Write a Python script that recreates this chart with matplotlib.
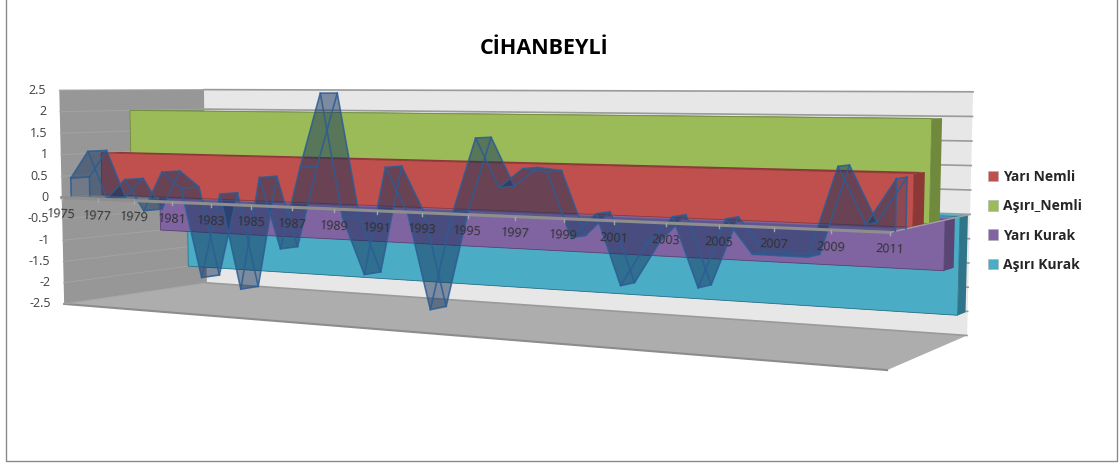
import numpy as np
import matplotlib
matplotlib.use('Agg')
import matplotlib.pyplot as plt
from matplotlib.patches import Polygon, Patch

years = list(range(1975, 2012))
spi = [0.44, 1.08, 0.0, 0.45, -0.25, 0.65, 0.3, -1.7, 0.2, -1.9, 0.6, -0.95, 0.85, 2.45, -0.2,
       -1.4, 0.9, -0.05, -2.05, 0.0, 1.55, 0.55, 0.95, 0.9, -0.4, 0.1, -1.3, -0.45, 0.1, -1.25,
       0.1, -0.55, -0.55, -0.55, 1.15, 0.1, 0.95]
band_names = ['Yarı Nemli', 'Aşırı_Nemli', 'Yarı Kurak', 'Aşırı Kurak']
band_levels = [1.0, 2.0, -1.0, -2.0]
band_colors = ['#c0504d', '#9bbb59', '#8064a2', '#4bacc6']
band_sides = ['#8c3836', '#6f8a3c', '#5a4574', '#2f7489']
value_ticks = [2.5, 2, 1.5, 1, 0.5, 0, -0.5, -1, -1.5, -2, -2.5]
year_ticks = list(range(1975, 2012, 2))

# depth slot of each series, 0 = front of the box, 1 = back wall
spi_depth = (0.06, 0.18)
band_depth = [(0.26, 0.39), (0.46, 0.59), (0.66, 0.79), (0.86, 0.97)]

# perspective of the 3d box, fitted on where its corners fall in the image
box = [(0, -2.5, 0), (1, -2.5, 0), (0, 2.5, 0), (1, 2.5, 0),
       (0, -2.5, 1), (1, -2.5, 1), (0, 2.5, 1), (1, 2.5, 1),
       (0, 0, 0), (1, 0, 0), (1, 0, 1)]
screen = [(65, 304), (887, 370), (60, 90), (893, 94),
          (207, 283), (968, 336), (204, 90), (974, 91),
          (60, 197), (890, 232), (968, 214)]
rows, rhs = [], []
for (a, b, c), (sx, sy) in zip(box, screen):
    rows.append([a, b, c, 1, 0, 0, 0, 0, -sx * a, -sx * b, -sx * c])
    rows.append([0, 0, 0, 0, a, b, c, 1, -sy * a, -sy * b, -sy * c])
    rhs += [sx, sy]
M = np.append(np.linalg.lstsq(np.array(rows, float), np.array(rhs, float), rcond=None)[0], 1).reshape(3, 4)


def pt(u, v, d):
    p = M @ np.array([u, v, d, 1.0])
    return p[0] / p[2], p[1] / p[2]


def yr(y):
    return (y - 1975) / (years[-1] - 1975)


fig = plt.figure(figsize=(11.2, 4.63), dpi=100)
ax = fig.add_axes([0, 0, 1, 1])
ax.set_xlim(0, 1120)
ax.set_ylim(463, 0)
ax.axis('off')

# chart frame
ax.plot([6, 6, 1117, 1117], [0, 461, 461, 0], color='#8a8a8a', lw=1)


def quad(p, **kw):
    ax.add_patch(Polygon(p, closed=True, **kw))


# walls and floor
quad([pt(0, 2.5, 1), pt(1, 2.5, 1), pt(1, -2.5, 1), pt(0, -2.5, 1)], fc='#e7e7e7', ec='none', zorder=1)
quad([pt(0, 2.5, 0), pt(0, 2.5, 1), pt(0, -2.5, 1), pt(0, -2.5, 0)], fc='#979797', ec='none', zorder=1)
quad([pt(0, -2.5, 0), pt(0, -2.5, 1), pt(1, -2.5, 1), pt(1, -2.5, 0)], fc='#adadad', ec='none', zorder=1)
ax.plot(*zip(pt(0, -2.5, 0), pt(1, -2.5, 0)), color='#8c8c8c', lw=1.5, zorder=1.5)

for v in value_ticks:
    ax.plot(*zip(pt(0, v, 1), pt(1, v, 1)), color='#9a9a9a', lw=1.2, zorder=1.5)
    ax.plot(*zip(pt(0, v, 0), pt(0, v, 1)), color='#a3a3a3', lw=0.7, zorder=1.5)
    ax.text(pt(0, v, 0)[0] - 13, pt(0, v, 0)[1], str(v), ha='right', va='center',
            fontsize=9, color='#404040', family='Open Sans')

# bands, back to front
for i in [3, 2, 1, 0]:
    lev = band_levels[i]
    d0, d1 = band_depth[i]
    quad([pt(1, 0, d0), pt(1, 0, d1), pt(1, lev, d1), pt(1, lev, d0)], fc=band_sides[i], ec='none', zorder=2)
    quad([pt(0, lev, d0), pt(0, lev, d1), pt(1, lev, d1), pt(1, lev, d0)], fc=band_sides[i], ec='none', zorder=2)
    if lev < 0:
        quad([pt(0, 0, d0), pt(0, 0, d1), pt(1, 0, d1), pt(1, 0, d0)], fc=band_colors[i], ec='none', zorder=2)
    quad([pt(0, 0, d0), pt(1, 0, d0), pt(1, lev, d0), pt(0, lev, d0)], fc=band_colors[i],
         ec=band_sides[i], lw=0.6, zorder=2)

# zero axis with ticks and year labels
ax.plot(*zip(pt(0, 0, 0), pt(1, 0, 0)), color='#8e8e8e', lw=2.2, zorder=5.5)
ax.plot(*zip(pt(1, 0, 0), pt(1, 0, 1)), color='#a0a0a0', lw=1, zorder=3)
for y in year_ticks:
    x0, y0 = pt(yr(y), 0, 0)
    ax.plot([x0, x0], [y0, y0 + 3], color='#a6a6a6', lw=1, zorder=5.5)
    ax.text(x0, y0 + 17, str(y), ha='center', va='center', rotation=-3,
            fontsize=9, color='#303030', family='Open Sans', zorder=6)

# SPI series as a 3d area in front of the bands
fill = dict(fc='#17365d', alpha=0.3, ec='none', zorder=4)
edge = dict(color='#2c5d93', lw=1.2, alpha=0.85, zorder=5)
us = [yr(y) for y in years]
for d in spi_depth[::-1]:
    curve = [pt(u, s, d) for u, s in zip(us, spi)]
    quad(curve + [pt(us[-1], 0, d), pt(us[0], 0, d)], **fill)
    ax.plot(*zip(*curve), **edge)
    ax.plot(*zip(pt(us[0], 0, d), curve[0]), **edge)
    ax.plot(*zip(pt(us[-1], 0, d), curve[-1]), **edge)
for k in range(len(us) - 1):
    quad([pt(us[k], spi[k], spi_depth[0]), pt(us[k + 1], spi[k + 1], spi_depth[0]),
          pt(us[k + 1], spi[k + 1], spi_depth[1]), pt(us[k], spi[k], spi_depth[1])], **fill)
for u, s in zip(us, spi):
    ax.plot(*zip(pt(u, s, spi_depth[0]), pt(u, s, spi_depth[1])), **edge)

ax.text(544, 48, 'CİHANBEYLİ', ha='center', va='center', fontsize=15.5, fontweight='bold',
        color='black', family='Open Sans')

handles = [Patch(fc=c, ec='#b0b0b0', lw=0.4) for c in band_colors]
ax.legend(handles, band_names, loc='upper left', bbox_to_anchor=(988 / 1120, 1 - 170 / 463),
          bbox_transform=fig.transFigure, frameon=False, handlelength=0.75, handleheight=0.8,
          handletextpad=0.35, labelspacing=1.1, borderpad=0, borderaxespad=0,
          prop=dict(family='Open Sans', weight='bold', size=10), labelcolor='#262626')

fig.savefig('out.png', dpi=100)
